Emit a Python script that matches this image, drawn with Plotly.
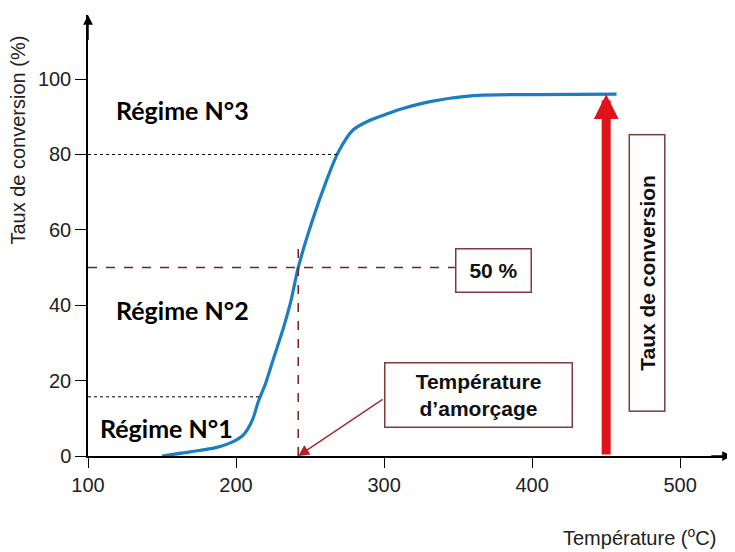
import numpy as np
import plotly.graph_objects as go

# courbe
temperature = [150, 169, 187, 198, 205, 211, 215, 220, 225, 232, 237, 242,
               252, 261, 269, 279, 290, 300, 311, 331, 360, 400, 457]
conversion = [0, 1.1, 2.3, 3.8, 5.6, 9.5, 14.4, 19.3, 25.5, 34, 41, 50,
              63, 73, 80.6, 86.5, 89, 90.5, 92, 94, 95.6, 95.9, 96]

x_ticks = [100, 200, 300, 400, 500]
y_ticks = [0, 20, 40, 60, 80, 100]

regime_limits = [15.7, 80]
half_conversion = 50
temp_final = 450

BLUE = '#1b7ec2'
DARK_RED = '#7b1f22'
BOX = '#7d3c3c'
RED = '#e0121a'
TXT = 'Liberation Sans, Arial, sans-serif'

fig = go.Figure(go.Scatter(x=temperature, y=conversion, mode='lines',
                           line=dict(color=BLUE, width=3.2, shape='spline',
                                     smoothing=0.8),
                           hoverinfo='skip'))

# lignes pointillees des regimes
for lvl in regime_limits:
    t_end = float(np.interp(lvl, conversion, temperature))
    fig.add_shape(type='line', x0=100, x1=t_end, y0=lvl, y1=lvl,
                  line=dict(color='black', width=1, dash='dot'))

# 50 % et temperature d'amorcage
t_half = float(np.interp(half_conversion, conversion, temperature))
fig.add_shape(type='line', x0=100, x1=348, y0=half_conversion, y1=half_conversion,
              line=dict(color=DARK_RED, width=1.5, dash='dash'))
fig.add_shape(type='line', x0=t_half, x1=t_half, y0=0, y1=56.5,
              line=dict(color=DARK_RED, width=1.5, dash='dash'))

# axes avec fleches
fig.add_annotation(x=535, y=0, ax=520, ay=0, axref='x', ayref='y', text='',
                   showarrow=True, arrowhead=2, arrowsize=1.3, arrowwidth=1.5,
                   arrowcolor='black')
fig.add_annotation(x=100, y=117, ax=100, ay=110, axref='x', ayref='y', text='',
                   showarrow=True, arrowhead=2, arrowsize=1.3, arrowwidth=1.5,
                   arrowcolor='black')

# grande fleche rouge
fig.add_annotation(x=temp_final, y=conversion[-1], ax=temp_final, ay=0,
                   axref='x', ayref='y', text='', showarrow=True, arrowhead=2,
                   arrowsize=0.55, arrowwidth=9, arrowcolor=RED)

# fleche vers la temperature d'amorcage
fig.add_annotation(x=t_half, y=0, ax=300, ay=15.3, axref='x', ayref='y',
                   text='', showarrow=True, arrowhead=2, arrowsize=1.7,
                   arrowwidth=1.3, arrowcolor='#b0202a')

regimes = [('Régime N°3', 164, 91.8), ('Régime N°2', 164, 38.7),
           ('Régime N°1', 153, 7.4)]
for txt, tx, ty in regimes:
    fig.add_annotation(x=tx, y=ty, text='<b>%s</b>' % txt, showarrow=False,
                       font=dict(family='Lato, Carlito, sans-serif', size=25,
                                 color='black'))


def add_box(text, x, y, w, h, angle=0):
    fig.add_annotation(x=x, y=y, text='<b>%s</b>' % text, showarrow=False,
                       width=w, height=h, textangle=angle, borderpad=0,
                       bordercolor=BOX, borderwidth=1.5, bgcolor='white',
                       font=dict(family=TXT, size=21, color='#111'))


add_box('50 %', 373.6, 49.3, 74, 42)
add_box('Température<br>d’amorçage', 363.9, 16.2, 186, 63)
add_box('Taux de conversion', 477.4, 48.5, 275, 34, angle=-90)
add_box('450', 450, -11.8, 63, 42)

fig.add_annotation(x=-0.109, y=0.717, xref='paper', yref='paper',
                   xanchor='center', yanchor='middle',
                   text='Taux de conversion (%)', textangle=-90, showarrow=False,
                   font=dict(family=TXT, size=20, color='#222'))
fig.add_annotation(x=0.857, y=-0.183, xref='paper', yref='paper',
                   xanchor='center', yanchor='middle',
                   text='Température (<sup>o</sup>C)', showarrow=False,
                   font=dict(family=TXT, size=20, color='#222'))

fig.update_xaxes(range=[100, 535], tickvals=x_ticks, ticks='outside',
                 ticklen=10, tickcolor='black', showline=True, linecolor='black',
                 linewidth=1.5, showgrid=False, zeroline=False, automargin=False,
                 tickfont=dict(family=TXT, size=20, color='#222'))
fig.update_yaxes(range=[0, 117], tickvals=y_ticks, ticks='outside',
                 ticklen=11, tickcolor='black', showline=True, linecolor='black',
                 linewidth=1.5, showgrid=False, zeroline=False, automargin=False,
                 tickfont=dict(family=TXT, size=20, color='#222'))
# la page ajoute 8 px de marge au corps : on decale la zone de trace
fig.update_layout(width=735, height=552, showlegend=False,
                  margin=dict(l=80, r=11, t=7, b=104),
                  plot_bgcolor='white', paper_bgcolor='white')

fig.write_html('out.html')
